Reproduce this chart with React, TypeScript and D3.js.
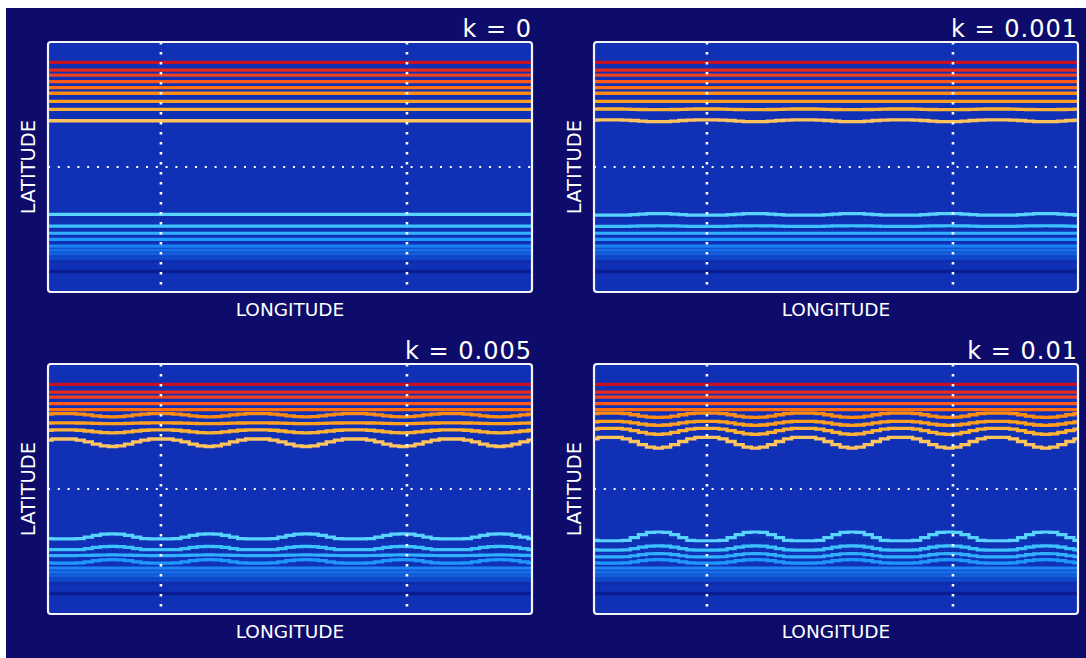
import * as d3 from 'd3'

// panel titles (zonal forcing strength)
const panelTitles = ['k = 0', 'k = 0.001', 'k = 0.005', 'k = 0.01']

// contour base latitudes (deg), read from the k = 0 panel
const northLevels = [75.4, 69.8, 66.2, 61.4, 57.1, 53.1, 47.3, 41.5, 33.3]
const southLevels = [-34.1, -42.5, -47.7, -52.1, -56.9, -59.8, -62.6, -65.5, -75.2]
// faint dotted contours between the southern lines
const southDotLevels = [-36.7, -44.6, -68.2]

// peak-to-peak meander of each contour (deg latitude), one row per panel
const northAmp = [
  [0, 0, 0, 0, 0, 0, 0, 0, 0],
  [0, 0, 0, 0, 0, 0, 0, 0.5, 1.4],
  [0, 0, 0, 0, 0, 2.2, 0.6, 2.2, 5.4],
  [0, 0, 0, 0, 0, 3.1, 2.9, 4.3, 7.6],
]
const southAmp = [
  [0, 0, 0, 0, 0, 0, 0, 0, 0],
  [1.2, 0.4, 0, 0, 0, 0, 0, 0, 0],
  [3.6, 2.4, 0.4, 2.4, 0, 0, 0, 0, 0],
  [6.3, 3.1, 2.4, 2.4, 0, 0, 0, 0, 0],
]

// one wavelength (72 deg lon, 6 deg steps) of the meander, 1 = equatorward extreme
const northCycle = [1, 0.92, 0.68, 0.38, 0.14, 0, 0, 0, 0.14, 0.38, 0.68, 0.92]
const southCycle = [1, 0.95, 0.7, 0.35, 0.05, 0, 0, 0, 0.05, 0.35, 0.7, 0.95]

// dotted reference lines
const meridians = [84, 267]
const parallels = [0]

const northColors = ['#c41222', '#e42a1c', '#f0421e', '#ff5818', '#ff7012', '#ff8c12', '#ffa01e', '#ffb234', '#ffc45e']
const southColors = ['#58d4ff', '#3cc2ff', '#30b0ff', '#1e98fa', '#1a82f2', '#1670e8', '#1260dc', '#0c4ccc', '#0a1c92']

const W = 1086
const H = 658
const PW = 484
const PH = 250
const panelPos = [
  { x: 48, y: 42 },
  { x: 594, y: 42 },
  { x: 48, y: 364 },
  { x: 594, y: 364 },
]

const lonGrid = d3.range(0, 361, 6)
const font = 'DejaVu Sans, Verdana, sans-serif'

function Panel({ idx }: { idx: number }) {
  const { x: px, y: py } = panelPos[idx]
  const x = d3.scaleLinear().domain([0, 360]).range([0, PW])
  const y = d3.scaleLinear().domain([90, -90]).range([0, PH])
  const line = d3
    .line<[number, number]>()
    .x((d) => x(d[0]))
    .y((d) => y(d[1]))
    .curve(d3.curveStep)

  const phase = (lon: number) => (((Math.round(lon / 6) - 8) % 12) + 12) % 12

  const north = northLevels.map((lvl, i) =>
    lonGrid.map((lon) => [lon, lvl - northAmp[idx][i] * (northCycle[phase(lon)] - 0.5)] as [number, number]),
  )
  const south = southLevels.map((lvl, i) =>
    lonGrid.map((lon) => [lon, lvl + southAmp[idx][i] * (southCycle[phase(lon)] - 0.5)] as [number, number]),
  )

  const clipId = `clip-${idx}`
  return (
    <g transform={`translate(${px},${py})`}>
      <defs>
        <clipPath id={clipId}>
          <rect x={0} y={0} width={PW} height={PH} />
        </clipPath>
      </defs>
      <rect x={0} y={0} width={PW} height={PH} fill="#1030b6" />
      <g clipPath={`url(#${clipId})`}>
        {southDotLevels.map((lvl, i) => (
          <line key={`d${i}`} x1={0} x2={PW} y1={y(lvl)} y2={y(lvl)} stroke="#0a2496" strokeWidth={1.5} strokeDasharray="1.5 2.5" />
        ))}
        {south.map((pts, i) => (
          <path key={`s${i}`} d={line(pts) ?? ''} fill="none" stroke={southColors[i]} strokeWidth={i === southLevels.length - 1 ? 3.4 : 3.2} />
        ))}
        {north.map((pts, i) => (
          <path key={`n${i}`} d={line(pts) ?? ''} fill="none" stroke={northColors[i]} strokeWidth={3.3} />
        ))}
        {meridians.map((lon) => (
          <line key={`m${lon}`} x1={x(lon)} x2={x(lon)} y1={0} y2={PH} stroke="#fff" strokeWidth={2.6} strokeDasharray="2.6 7.4" />
        ))}
        {parallels.map((lat) => (
          <line key={`p${lat}`} x1={0} x2={PW} y1={y(lat)} y2={y(lat)} stroke="#fff" strokeWidth={2} strokeDasharray="2 7.8" />
        ))}
      </g>
      <rect x={0} y={0} width={PW} height={PH} fill="none" stroke="#f4f4f8" strokeWidth={2.2} rx={3} />
      <text x={PW} y={-5} textAnchor="end" fill="#fff" fontFamily={font} fontSize={24} letterSpacing={1}>
        {panelTitles[idx]}
      </text>
      <text x={PW / 2} y={PH + 24} textAnchor="middle" fill="#fff" fontFamily={font} fontSize={18.5}>
        LONGITUDE
      </text>
      <text
        transform={`translate(${-13},${PH / 2}) rotate(-90)`}
        textAnchor="middle"
        fill="#fff"
        fontFamily={font}
        fontSize={19.5}
      >
        LATITUDE
      </text>
    </g>
  )
}

export default function App() {
  return (
    <div style={{ position: 'absolute', left: 0, top: 0 }}>
      <svg width={W} height={H} style={{ display: 'block' }}>
        <rect x={0} y={0} width={W} height={H} fill="#fff" />
        <rect x={6} y={8} width={W - 6} height={H - 8} fill="#0e0c6a" />
        {panelTitles.map((_, i) => (
          <Panel key={i} idx={i} />
        ))}
      </svg>
    </div>
  )
}
